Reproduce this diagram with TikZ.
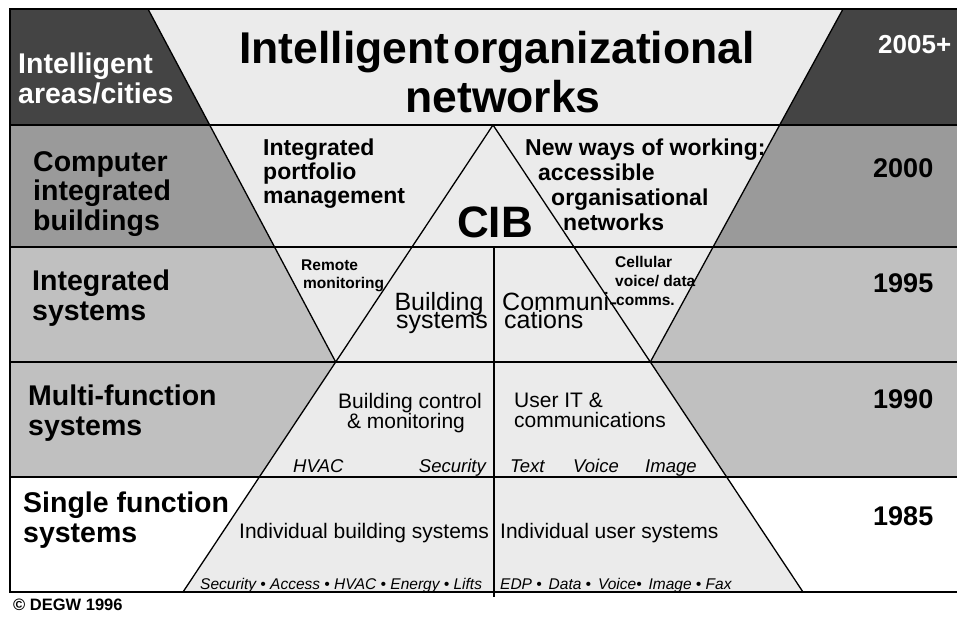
\documentclass[tikz,border=0pt]{standalone}
\usepackage{fontspec}
\setmainfont{Liberation Sans}
\definecolor{darkband}{HTML}{444444}
\definecolor{midband}{HTML}{9A9A9A}
\definecolor{lightband}{HTML}{C0C0C0}
\definecolor{pale}{HTML}{EBEBEB}
\tikzset{
  txt/.style={inner sep=0pt, anchor=base west},
  ctxt/.style={inner sep=0pt, anchor=base},
  rtxt/.style={inner sep=0pt, anchor=base east},
  rowlabel/.style={txt, font=\fontsize{28.5}{30}\selectfont\bfseries},
  yearlabel/.style={txt, font=\fontsize{27}{30}\selectfont\bfseries},
  smallbold/.style={txt, font=\fontsize{15.5}{18}\selectfont\bfseries},
  midbold/.style={txt, font=\fontsize{23}{25}\selectfont\bfseries},
  bigtitle/.style={ctxt, font=\fontsize{44.5}{48}\selectfont\bfseries},
  plainmid/.style={font=\fontsize{21}{22}\selectfont},
  plainbig/.style={font=\fontsize{25}{26}\selectfont},
  itsmall/.style={txt, font=\fontsize{18.5}{20}\selectfont\itshape},
  ittiny/.style={txt, font=\fontsize{15.5}{17}\selectfont\itshape},
  frame/.style={line width=1.3pt, black},
}
\begin{document}
\begin{tikzpicture}[x=1pt, y=-1pt]
\useasboundingbox (0,0) rectangle (957,619);
% key coordinates
\coordinate (TL) at (148,9);
\coordinate (TR) at (843,9);
\coordinate (VL) at (335.7,362);
\coordinate (VR) at (650.3,362);
\coordinate (A) at (493,125);
\coordinate (BL) at (183,592);
\coordinate (BR) at (803,592);
% bands
\fill[darkband] (10,9) rectangle (957,125);
\fill[midband] (10,125) rectangle (957,247);
\fill[lightband] (10,247) rectangle (957,477);
\fill[white] (10,477) rectangle (957,592);
% pale central shape
\fill[pale] (TL) -- (VL) -- (BL) -- (BR) -- (VR) -- (TR) -- cycle;
% lines
\draw[frame] (957,9) -- (10,9) -- (10,592) -- (957,592);
\foreach \yy in {125,247,362,477} \draw[frame] (10,\yy) -- (957,\yy);
\draw[frame] (TL) -- (VL);
\draw[frame] (TR) -- (VR);
\draw[frame] (A) -- (BL);
\draw[frame] (A) -- (BR);
\coordinate (C1) at (494,247);
\coordinate (C2) at (494,597);
\draw[frame] (C1) -- (C2);

% Row 1
\node[rowlabel, text=white] (r1a) at (18,73) {Intelligent};
\node[rowlabel, text=white] (r1b) at (18,103) {areas/cities};
\node[bigtitle] (t1) at (497,63) {Intelligent\hspace{0.08em}organizational};
\node[bigtitle] (t2) at (503,112) {networks};
\node[txt, font=\fontsize{26}{28}\selectfont\bfseries, text=white] (y1) at (878,53) {2005+};

% Row 2
\node[rowlabel] (r2a) at (33,171) {Computer};
\node[rowlabel] (r2b) at (33,200) {integrated};
\node[rowlabel] (r2c) at (33,230) {buildings};
\node[midbold] (ipa) at (263,155) {Integrated};
\node[midbold] (ipb) at (263,179) {portfolio};
\node[midbold] (ipc) at (263,203) {management};
\node[midbold] (nwa) at (525,155) {New ways of working:};
\node[midbold] (nwb) at (538,180) {accessible};
\node[midbold] (nwc) at (551,205) {organisational};
\node[midbold] (nwd) at (563,230) {networks};
\node[ctxt, font=\fontsize{44}{46}\selectfont\bfseries] (cib) at (495,237) {CIB};
\node[yearlabel] (y2) at (873,177) {2000};

% Row 3
\node[rowlabel] (r3a) at (32,290) {Integrated};
\node[rowlabel] (r3b) at (32,320) {systems};
\node[smallbold] (rma) at (301,270) {Remote};
\node[smallbold] (rmb) at (303,288) {monitoring};
\node[ctxt, plainbig] (bsa) at (439,310) {Building};
\node[ctxt, plainbig] (bsb) at (442,328) {systems};
\node[txt, plainbig] (cma) at (502,310) {Communi-};
\node[txt, plainbig] (cmb) at (504,328) {cations};
\node[smallbold] (cva) at (615,267) {Cellular};
\node[smallbold] (cvb) at (615,286) {voice/ data};
\node[smallbold] (cvc) at (616,305) {comms.};
\node[yearlabel] (y3) at (873,292) {1995};

% Row 4
\node[rowlabel] (r4a) at (28,405) {Multi-function};
\node[rowlabel] (r4b) at (28,435) {systems};
\node[ctxt, plainmid] (bca) at (410,408) {Building control};
\node[ctxt, plainmid] (bcb) at (406,428) {\& monitoring};
\node[txt, plainmid] (uia) at (514,407) {User IT \&};
\node[txt, plainmid] (uib) at (514,427) {communications};
\node[itsmall] (hv) at (293,472) {HVAC};
\node[rtxt, font=\fontsize{18.5}{20}\selectfont\itshape] (sec) at (486,472) {Security};
\node[itsmall] (tx) at (510,472) {Text};
\node[itsmall] (vo) at (573,472) {Voice};
\node[itsmall] (im) at (645,472) {Image};
\node[yearlabel] (y4) at (873,408) {1990};

% Row 5
\node[rowlabel] (r5a) at (23,512) {Single function};
\node[rowlabel] (r5b) at (23,542) {systems};
\node[txt, plainmid] (ibs) at (239,538) {Individual building systems};
\node[txt, plainmid] (ius) at (500,538) {Individual user systems};
\node[ittiny] (bl1) at (200,589) {Security • Access • HVAC • Energy • Lifts};
\node[ittiny] (bl2) at (500,589) {EDP • \,Data • \,Voice• \,Image • Fax};
\node[yearlabel] (y5) at (873,525) {1985};

% copyright
\node[txt, font=\fontsize{16.5}{18}\selectfont\bfseries] (cp) at (13,610) {© DEGW 1996};
\end{tikzpicture}
\end{document}
